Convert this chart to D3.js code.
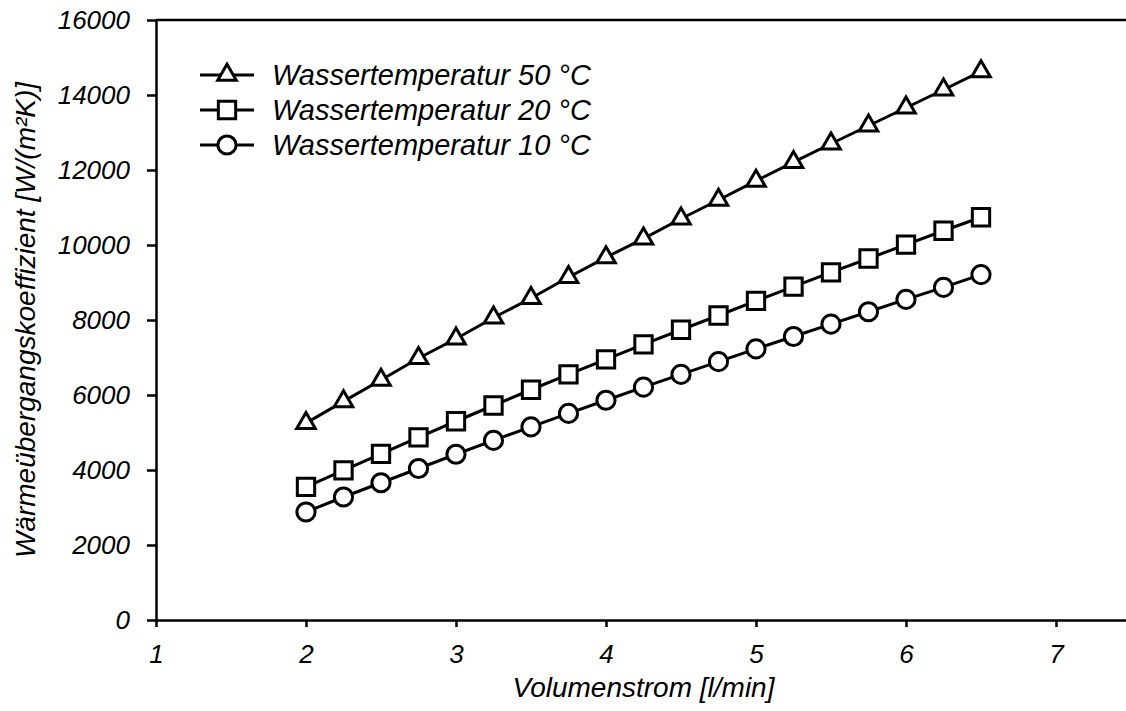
<!DOCTYPE html>
<meta charset="utf-8">
<style>
body { margin: 0; background: #fff; }
text { font-family: "Liberation Sans", Arial, sans-serif; font-style: italic; fill: #000; }
.axis path, .axis line { stroke: #000; stroke-width: 2.5px; }
</style>
<svg width="1126" height="711"></svg>
<script src="https://d3js.org/d3.v7.min.js"></script>
<script>
// flow rate [l/min]
var flow = [2, 2.25, 2.5, 2.75, 3, 3.25, 3.5, 3.75, 4, 4.25, 4.5, 4.75, 5, 5.25, 5.5, 5.75, 6, 6.25, 6.5];
// heat transfer coefficient per water temperature
var t50 = [5250, 5830, 6400, 6980, 7500, 8060, 8580, 9140, 9670, 10170, 10700, 11200, 11710, 12210, 12700, 13180, 13660, 14140, 14630];
var t20 = [3550, 3990, 4430, 4870, 5300, 5720, 6140, 6550, 6950, 7350, 7740, 8120, 8510, 8890, 9270, 9640, 10010, 10380, 10740];
var t10 = [2880, 3280, 3660, 4040, 4420, 4790, 5150, 5510, 5860, 6210, 6550, 6890, 7230, 7560, 7890, 8220, 8550, 8870, 9210];
var seriesNames = ["Wassertemperatur 50 °C", "Wassertemperatur 20 °C", "Wassertemperatur 10 °C"];
var xTicks = [1, 2, 3, 4, 5, 6, 7];
var yTicks = [0, 2000, 4000, 6000, 8000, 10000, 12000, 14000, 16000];

var svg = d3.select("svg");
var plotL = 156, plotT = 20, plotR = 1131, plotB = 620;

var x = d3.scaleLinear().domain([1, 7.5]).range([plotL, plotR]);
var y = d3.scaleLinear().domain([0, 16000]).range([plotB, plotT]);

var series = [
  { name: seriesNames[0], values: t50, shape: d3.symbolTriangle, size: 150 },
  { name: seriesNames[1], values: t20, shape: d3.symbolSquare, size: 300 },
  { name: seriesNames[2], values: t10, shape: d3.symbolCircle, size: 260 }
];

// top frame line
svg.append("line")
    .attr("x1", plotL).attr("x2", plotR)
    .attr("y1", plotT).attr("y2", plotT)
    .attr("stroke", "#000").attr("stroke-width", 2.5);

var xAxis = svg.append("g")
    .attr("class", "axis")
    .attr("transform", "translate(0," + plotB + ")")
    .call(d3.axisBottom(x).tickValues(xTicks).tickFormat(d3.format("d"))
      .tickSize(7).tickPadding(18).tickSizeOuter(0));
xAxis.selectAll("text").style("font-size", "26px");

var yAxis = svg.append("g")
    .attr("class", "axis")
    .attr("transform", "translate(" + plotL + ",0)")
    .call(d3.axisLeft(y).tickValues(yTicks).tickFormat(d3.format("d"))
      .tickSize(9).tickPadding(17).tickSizeOuter(0));
yAxis.selectAll("text").style("font-size", "26px");

// axis titles
svg.append("text")
    .attr("x", (plotL + plotR) / 2)
    .attr("y", 697)
    .attr("text-anchor", "middle")
    .style("font-size", "28px")
    .text("Volumenstrom [l/min]");

svg.append("text")
    .attr("transform", "translate(35," + (plotT + plotB) / 2 + ") rotate(-90)")
    .attr("text-anchor", "middle")
    .style("font-size", "28px")
    .text("Wärmeübergangskoeffizient [W/(m²K)]");

var line = d3.line()
    .x(function(d, i) { return x(flow[i]); })
    .y(function(d) { return y(d); });

series.forEach(function(s) {
  svg.append("path")
      .datum(s.values)
      .attr("d", line)
      .attr("fill", "none")
      .attr("stroke", "#000")
      .attr("stroke-width", 3);

  svg.append("g")
    .selectAll("path")
    .data(s.values)
    .enter().append("path")
      .attr("transform", function(d, i) { return "translate(" + x(flow[i]) + "," + y(d) + ")"; })
      .attr("d", d3.symbol().type(s.shape).size(s.size))
      .attr("fill", "#fff")
      .attr("stroke", "#000")
      .attr("stroke-width", 3);
});

// legend
var legend = svg.append("g")
  .selectAll("g")
  .data(series)
  .enter().append("g")
    .attr("transform", function(d, i) { return "translate(200," + (75 + i * 35) + ")"; });

legend.append("line")
    .attr("x1", 0).attr("x2", 54)
    .attr("stroke", "#000").attr("stroke-width", 3);

legend.append("path")
    .attr("transform", "translate(27,0)")
    .attr("d", function(d) { return d3.symbol().type(d.shape).size(d.size)(); })
    .attr("fill", "#fff")
    .attr("stroke", "#000")
    .attr("stroke-width", 3);

legend.append("text")
    .attr("x", 72)
    .attr("y", 10)
    .style("font-size", "29px")
    .text(function(d) { return d.name; });
</script>
